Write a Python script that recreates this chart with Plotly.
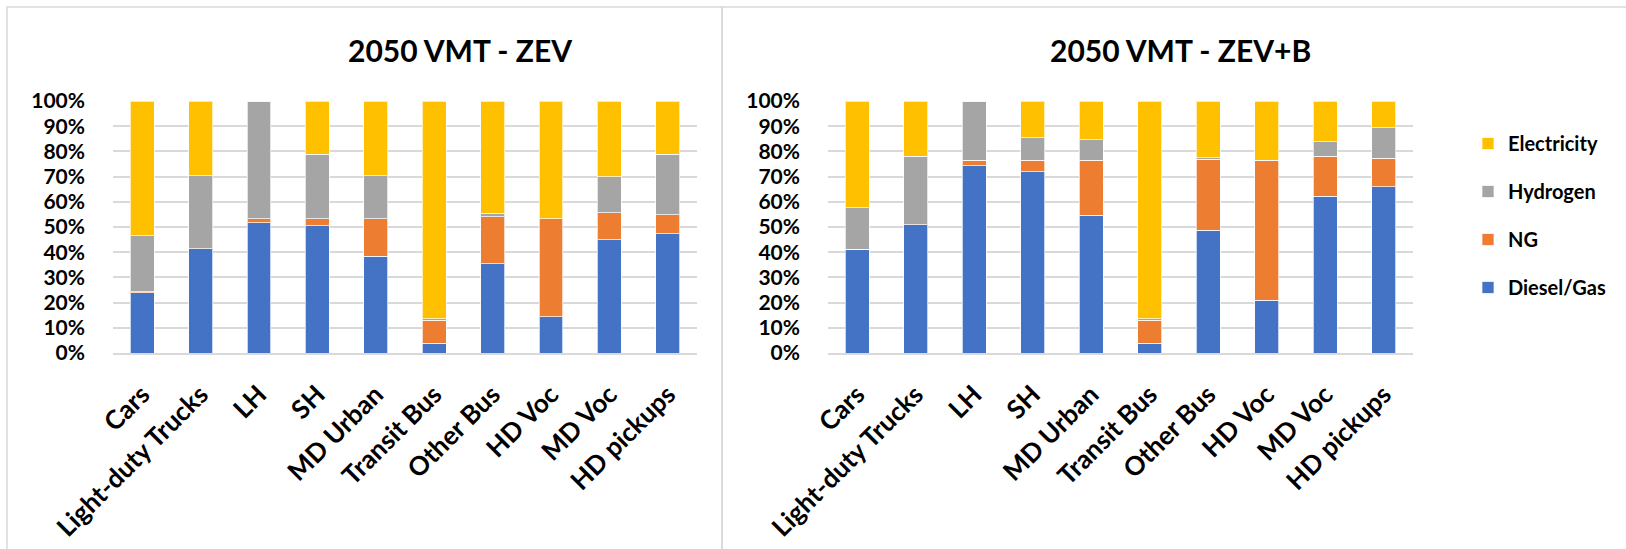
import plotly.graph_objects as go

W, H = 1626, 549

categories = ["Cars", "Light-duty Trucks", "LH", "SH", "MD Urban",
              "Transit Bus", "Other Bus", "HD Voc", "MD Voc", "HD pickups"]

# 2050 VMT shares (%) - ZEV scenario
zev_diesel = [24.0, 41.3, 51.7, 50.4, 38.3, 3.8, 35.5, 14.4, 45.0, 47.4]
zev_ng = [0.3, 0.0, 1.6, 2.9, 15.0, 9.1, 18.6, 38.9, 10.7, 7.5]
zev_hydrogen = [22.3, 29.1, 46.7, 25.5, 17.1, 0.7, 1.4, 0.0, 14.2, 23.9]
zev_electricity = [53.4, 29.6, 0.0, 21.2, 29.6, 86.4, 44.5, 46.7, 30.1, 21.2]

# 2050 VMT shares (%) - ZEV+B scenario
zevb_diesel = [41.2, 50.8, 74.3, 71.9, 54.7, 3.8, 48.7, 21.0, 62.3, 66.0]
zevb_ng = [0.0, 0.0, 2.2, 4.6, 21.8, 9.1, 28.1, 55.5, 15.7, 11.2]
zevb_hydrogen = [16.5, 27.2, 23.5, 8.9, 8.2, 0.7, 0.6, 0.0, 5.9, 12.1]
zevb_electricity = [42.3, 22.0, 0.0, 14.6, 15.3, 86.4, 22.6, 23.5, 16.1, 10.7]

series_names = ["Diesel/Gas", "NG", "Hydrogen", "Electricity"]
series_colors = ["#4472C4", "#ED7D31", "#A5A5A5", "#FFC000"]
legend_ranks = [4, 3, 2, 1]
titles = ["2050 VMT - ZEV", "2050 VMT - ZEV+B"]
y_ticks = [0, 10, 20, 30, 40, 50, 60, 70, 80, 90, 100]
y_tick_text = [f"{v}%" for v in y_ticks]

FONT = "Lato"
GRID = "#d9d9d9"


def px_x(p):
    return p / W


def px_y(p):
    return 1 - p / H


fig = go.Figure()

panels = [
    (zev_diesel, zev_ng, zev_hydrogen, zev_electricity),
    (zevb_diesel, zevb_ng, zevb_hydrogen, zevb_electricity),
]

for i, panel in enumerate(panels):
    xa = "x" if i == 0 else "x2"
    ya = "y" if i == 0 else "y2"
    for name, color, rank, vals in zip(series_names, series_colors, legend_ranks, panel):
        fig.add_trace(go.Bar(
            x=categories, y=vals, name=name,
            marker=dict(color=color, line=dict(color="rgba(255,255,255,0.7)", width=1)),
            xaxis=xa, yaxis=ya,
            legendgroup=name, legendrank=rank, showlegend=(i == 1),
        ))

axis_common_x = dict(
    type="category", showgrid=False, showline=True, linecolor=GRID, linewidth=2,
    ticks="", tickangle=-45, automargin=False,
    tickfont=dict(family=FONT, size=26, color="#000000", weight="bold"),
    ticklabelstandoff=14,
)
axis_common_y = dict(
    range=[0, 100], tickvals=y_ticks, ticktext=y_tick_text,
    showgrid=True, gridcolor=GRID, gridwidth=2, zeroline=False, showline=False,
    ticks="", automargin=False,
    tickfont=dict(family=FONT, size=21, color="#000000", weight="bold"),
    ticklabelstandoff=27,
)

y_dom = [px_y(353), px_y(101)]

fig.update_layout(
    width=W, height=H,
    margin=dict(l=0, r=0, t=0, b=0, autoexpand=False),
    paper_bgcolor="white", plot_bgcolor="white",
    barmode="stack", bargap=0.59,
    xaxis=dict(domain=[px_x(113), px_x(697)], anchor="y", **axis_common_x),
    yaxis=dict(domain=y_dom, anchor="x", **axis_common_y),
    xaxis2=dict(domain=[px_x(828), px_x(1413)], anchor="y2", **axis_common_x),
    yaxis2=dict(domain=y_dom, anchor="x2", **axis_common_y),
    showlegend=True,
    legend=dict(
        x=px_x(1468), y=px_y(124), xanchor="left", yanchor="top",
        traceorder="grouped", tracegroupgap=19, itemwidth=30,
        font=dict(family=FONT, size=20, color="#000000", weight="bold"),
        bgcolor="rgba(0,0,0,0)",
    ),
)

# chart frames
fig.add_shape(type="rect", xref="paper", yref="paper",
              x0=px_x(7), x1=px_x(722), y0=-0.05, y1=px_y(7),
              line=dict(color=GRID, width=1.5))
fig.add_shape(type="rect", xref="paper", yref="paper",
              x0=px_x(722), x1=1.05, y0=-0.05, y1=px_y(7),
              line=dict(color=GRID, width=1.5))

# titles
for cx, text in zip([460, 1180], titles):
    fig.add_annotation(
        x=px_x(cx), y=px_y(50), xref="paper", yref="paper",
        text=text, showarrow=False, xanchor="center", yanchor="middle",
        font=dict(family=FONT, size=30, color="#000000", weight="bold"),
    )

fig.write_html("out.html")
